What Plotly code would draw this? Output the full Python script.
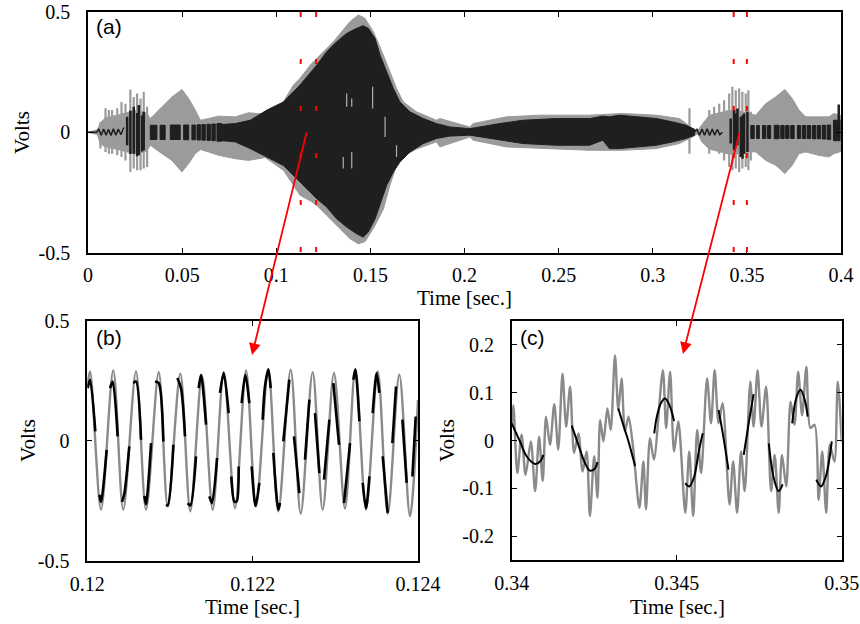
import plotly.graph_objects as go

W, H = 860, 624

# ---------------- Panel (a): values ----------------
# gray signal envelope (upper / lower) over time
A_GRAY_T = [0.0, 0.005, 0.0066, 0.0093, 0.015, 0.020, 0.025, 0.031, 0.0331, 0.0393, 0.0446, 0.0499,
            0.0535, 0.0570, 0.0597, 0.0641, 0.0694, 0.0782, 0.0853, 0.0941, 0.1038, 0.1091, 0.1126,
            0.1180, 0.1215, 0.1303, 0.1392, 0.1436, 0.1471, 0.1516, 0.1569, 0.1604, 0.1639, 0.1675,
            0.1745, 0.1851, 0.1869, 0.2028, 0.2046, 0.2222, 0.2399, 0.2665, 0.2841, 0.3018, 0.3142,
            0.3213, 0.3240, 0.3260, 0.3300, 0.3350, 0.3400, 0.3450, 0.3500, 0.3547, 0.3600, 0.3653,
            0.3702, 0.3741, 0.3777, 0.3812, 0.3883, 0.3936, 0.3962, 0.4000]
A_GRAY_HI = [0.0, 0.01, 0.04, 0.06, 0.07, 0.08, 0.09, 0.08, 0.057, 0.106, 0.147, 0.178,
             0.14, 0.092, 0.05, 0.057, 0.067, 0.064, 0.081, 0.075, 0.126, 0.196, 0.224,
             0.279, 0.307, 0.376, 0.46, 0.488, 0.474, 0.418, 0.321, 0.251, 0.182, 0.126,
             0.085, 0.05, 0.057, 0.022, 0.036, 0.064, 0.071, 0.071, 0.078, 0.071, 0.057,
             0.015, 0.008, 0.03, 0.07, 0.08, 0.09, 0.09, 0.08, 0.071, 0.119, 0.147,
             0.178, 0.14, 0.092, 0.064, 0.064, 0.064, 0.078, 0.07]
A_GRAY_LO = [0.0, -0.01, -0.05, -0.06, -0.07, -0.08, -0.09, -0.08, -0.054, -0.089, -0.117, -0.165,
             -0.13, -0.089, -0.072, -0.082, -0.096, -0.11, -0.117, -0.105, -0.158, -0.22, -0.262,
             -0.285, -0.304, -0.374, -0.443, -0.464, -0.455, -0.40, -0.32, -0.22, -0.138, -0.10,
             -0.07, -0.04, -0.061, -0.02, -0.033, -0.061, -0.068, -0.075, -0.075, -0.068, -0.047,
             -0.019, -0.006, -0.04, -0.07, -0.08, -0.09, -0.09, -0.08, -0.082, -0.117, -0.137,
             -0.172, -0.137, -0.089, -0.082, -0.096, -0.103, -0.089, -0.08]

# gray thin spikes in the bursts
A_SPIKE_T = [0.0066, 0.0093, 0.0111, 0.0128, 0.0155, 0.0178, 0.0199, 0.0225, 0.0243, 0.0261, 0.0279,
             0.0296, 0.0314, 0.3195, 0.3300, 0.3326, 0.3353, 0.3379, 0.3406, 0.3423, 0.3441, 0.3459,
             0.3476, 0.3494, 0.3508, 0.3521]
A_SPIKE_HI = [0.043, 0.10, 0.093, 0.093, 0.10, 0.126, 0.119, 0.178, 0.147, 0.161, 0.14,
              0.168, 0.106, 0.10, 0.092, 0.106, 0.119, 0.133, 0.161, 0.189, 0.175, 0.182,
              0.168, 0.161, 0.175, 0.085]
A_SPIKE_LO = [-0.068, -0.082, -0.089, -0.089, -0.096, -0.103, -0.117, -0.165, -0.151, -0.158, -0.158,
              -0.151, -0.144, -0.089, -0.089, -0.075, -0.089, -0.117, -0.144, -0.158, -0.151, -0.165,
              -0.151, -0.144, -0.158, -0.117]

# black signal envelope
A_BLACK_T = [0.0712, 0.0782, 0.0862, 0.0950, 0.1038, 0.1126, 0.1215, 0.1268, 0.1321, 0.1374, 0.1427,
             0.1462, 0.1489, 0.1525, 0.1551, 0.1586, 0.1622, 0.1657, 0.1710, 0.1781, 0.1851, 0.1922,
             0.2028, 0.2187, 0.2311, 0.2488, 0.2665, 0.2735, 0.2770, 0.2823, 0.2929, 0.3018, 0.3106,
             0.3177, 0.3222]
A_BLACK_HI = [0.032, 0.036, 0.05, 0.092, 0.126, 0.196, 0.279, 0.335, 0.376, 0.411, 0.432,
              0.443, 0.432, 0.39, 0.321, 0.251, 0.182, 0.126, 0.085, 0.057, 0.036, 0.022,
              0.015, 0.036, 0.05, 0.057, 0.057, 0.067, 0.064, 0.071, 0.064, 0.057, 0.043,
              0.029, 0.012]
A_BLACK_LO = [-0.035, -0.04, -0.068, -0.103, -0.138, -0.207, -0.276, -0.311, -0.36, -0.394, -0.422,
              -0.436, -0.415, -0.36, -0.304, -0.221, -0.165, -0.124, -0.082, -0.047, -0.026, -0.016,
              -0.012, -0.033, -0.047, -0.054, -0.054, -0.033, -0.068, -0.068, -0.061, -0.054, -0.04,
              -0.026, -0.012]

# black strokes inside the bursts
A_STROKE_T = [0.0208, 0.0225, 0.0243, 0.0261, 0.0270, 0.0287, 0.0296,
              0.3414, 0.3432, 0.3441, 0.3450, 0.3468, 0.3477, 0.3485, 0.3503, 0.3988]
A_STROKE_HI = [0.064, 0.09, 0.106, 0.08, 0.113, 0.07, 0.085,
               0.057, 0.092, 0.078, 0.099, 0.064, 0.071, 0.078, 0.085, 0.115]
A_STROKE_LO = [-0.054, -0.09, -0.089, -0.10, -0.096, -0.08, -0.075,
               -0.047, -0.075, -0.061, -0.054, -0.103, -0.11, -0.089, -0.082, -0.02]

# black blocks (start, end, top, bottom)
A_BLOCK_T0 = [0.0331, 0.0383, 0.0437, 0.0508, 0.0552, 0.0579, 0.0605, 0.0632, 0.0658, 0.0685,
              0.3521, 0.3552, 0.3583, 0.3610, 0.3645, 0.3680, 0.3706, 0.3733, 0.3768, 0.3795,
              0.3821, 0.3848, 0.3874, 0.3901, 0.3927, 0.3960]
A_BLOCK_T1 = [0.0366, 0.0410, 0.0490, 0.0535, 0.0570, 0.0597, 0.0623, 0.0650, 0.0676, 0.0712,
              0.3539, 0.3566, 0.3601, 0.3627, 0.3671, 0.3698, 0.3724, 0.3751, 0.3786, 0.3813,
              0.3839, 0.3866, 0.3892, 0.3919, 0.3945, 0.3995]
A_BLOCK_HI = [0.029, 0.029, 0.03, 0.03, 0.03, 0.031, 0.032, 0.033, 0.034, 0.036,
              0.028, 0.028, 0.028, 0.028, 0.029, 0.028, 0.028, 0.028, 0.028, 0.028,
              0.028, 0.028, 0.028, 0.029, 0.03, 0.05]
A_BLOCK_LO = [-0.03, -0.03, -0.03, -0.031, -0.031, -0.032, -0.033, -0.034, -0.035, -0.037,
              -0.026, -0.026, -0.026, -0.026, -0.027, -0.026, -0.026, -0.026, -0.026, -0.026,
              -0.026, -0.027, -0.027, -0.028, -0.03, -0.035]

# thin black wiggles at the quiet parts
A_WIG_L_T = [0.0, 0.0045, 0.0057, 0.0070, 0.0083, 0.0096, 0.0109, 0.0122, 0.0135, 0.0148, 0.0161, 0.0175, 0.0190]
A_WIG_L_V = [0.0, 0.0, 0.012, -0.012, 0.013, -0.012, 0.012, -0.013, 0.014, -0.012, 0.013, -0.01, 0.02]
A_WIG_R_T = [0.3222, 0.3235, 0.3248, 0.3262, 0.3275, 0.3289, 0.3302, 0.3316, 0.3329, 0.3343, 0.3356, 0.3370]
A_WIG_R_V = [0.0, 0.012, -0.012, 0.013, -0.012, 0.014, -0.013, 0.013, -0.012, 0.012, -0.01, 0.0]

# light streaks inside the black burst
A_STREAK_T = [0.1374, 0.1401, 0.1356, 0.1401, 0.1512, 0.1578, 0.1639]
A_STREAK_HI = [0.161, 0.14, -0.103, -0.082, 0.189, 0.064, -0.054]
A_STREAK_LO = [0.106, 0.106, -0.151, -0.151, 0.099, -0.020, -0.103]

A_XTICKS = [0, 0.05, 0.1, 0.15, 0.2, 0.25, 0.3, 0.35, 0.4]
A_XTICKTEXT = ["0", "0.05", "0.1", "0.15", "0.2", "0.25", "0.3", "0.35", "0.4"]
A_YTICKS = [-0.5, 0, 0.5]
A_YTICKTEXT = ["-0.5", "0", "0.5"]
RED_MARK_T = [0.1130, 0.1212, 0.3430, 0.3500]

# ---------------- Panel (b) ----------------
B_PEAK_T = [0.120033, 0.120314, 0.120589, 0.120864, 0.121125, 0.121387, 0.121650, 0.121920,
            0.122189, 0.122460, 0.122726, 0.122984, 0.123242, 0.123513, 0.123774]
B_PEAK_V = [0.289, 0.293, 0.289, 0.285, 0.279, 0.271, 0.285, 0.293,
            0.299, 0.296, 0.285, 0.282, 0.299, 0.289, 0.275]
B_TROUGH_T = [0.120166, 0.120435, 0.120710, 0.120973, 0.121246, 0.121517, 0.121787, 0.122041,
              0.122310, 0.122581, 0.122847, 0.123117, 0.123371, 0.123634, 0.123903]
B_TROUGH_V = [-0.2875, -0.2875, -0.2875, -0.274, -0.294, -0.2875, -0.281, -0.274,
              -0.294, -0.304, -0.2875, -0.283, -0.2875, -0.304, -0.315]
B_EDGE_T = [0.120, 0.124]
B_EDGE_V = [0.226, 0.17]

B_BLACK_T = [0.120004, 0.120033, 0.120097, None, 0.120146, 0.120166, 0.120234, None,
             0.120275, 0.120307, 0.120367, None, 0.120420, 0.120448, 0.120508, None,
             0.120557, 0.120589, 0.120650, None, 0.120690, 0.120710, 0.120771, None,
             0.120819, 0.120863, 0.120920, None, 0.120952, 0.120973, 0.121041, None,
             0.121089, 0.121133, 0.121182, None, 0.121214, 0.121246, 0.121315, None,
             0.121347, 0.121375, 0.121436, None, 0.121476, 0.121508, 0.121569, None,
             0.121605, 0.121650, 0.121710, None, 0.121742, 0.121779, 0.121807, 0.121831, None,
             0.121867, 0.121912, 0.121960, None, 0.121988, 0.122035, 0.122081, None,
             0.122121, 0.122149, 0.122190, 0.122218, None, 0.122250, 0.122311, 0.122331, None,
             0.122371, 0.122444, None, 0.122500, 0.122565, None, 0.122633, 0.122686, None,
             0.122754, 0.122807, None, 0.122863, 0.122928, None, 0.122976, 0.123045, None,
             0.123105, 0.123178, None, 0.123218, 0.123242, 0.123291, None,
             0.123331, 0.123371, 0.123412, None, 0.123452, 0.123500, 0.123532, None,
             0.123573, 0.123633, None, 0.123690, 0.123734, None, 0.123811, 0.123863, None,
             0.123932, 0.123972]
B_BLACK_V = [0.219, 0.254, 0.039, None, -0.225, -0.255, -0.038, None,
             0.219, 0.247, 0.018, None, -0.255, -0.22, -0.024, None,
             0.240, 0.247, 0.004, None, -0.23, -0.265, -0.010, None,
             0.247, 0.240, -0.003, None, -0.267, -0.27, -0.017, None,
             0.261, 0.219, 0.018, None, -0.26, -0.27, -0.065, None,
             0.219, 0.275, 0.067, None, -0.232, -0.26, -0.072, None,
             0.199, 0.282, 0.115, None, -0.149, -0.253, -0.253, -0.107, None,
             0.157, 0.275, 0.157, None, -0.107, -0.272, -0.176, None,
             0.0875, 0.226, 0.296, 0.219, None, -0.051, -0.2875, -0.26, None,
             -0.003, 0.254, None, 0.018, -0.218, None, -0.079, 0.171, None,
             0.115, -0.135, None, -0.1625, 0.0875, None, 0.240, -0.017, None,
             -0.26, -0.010, None, 0.254, 0.296, 0.081, None,
             -0.176, -0.281, -0.149, None, 0.115, 0.282, 0.199, None,
             -0.065, -0.301, None, -0.010, 0.226, None, 0.0875, -0.176, None,
             -0.149, 0.101]
B_XTICKS = [0.12, 0.122, 0.124]
B_XTICKTEXT = ["0.12", "0.122", "0.124"]

# ---------------- Panel (c) ----------------
C_GRAY_T = [0.34000, 0.34005, 0.34017, 0.34030, 0.34042, 0.34058, 0.34071, 0.34083, 0.34094, 0.34104,
            0.34116, 0.34129, 0.34141, 0.34154, 0.34165, 0.34177, 0.34189, 0.34202, 0.34215, 0.34227,
            0.34237, 0.34250, 0.34260, 0.34268, 0.34278, 0.34290, 0.34300, 0.34313, 0.34323, 0.34333,
            0.34343, 0.34354, 0.34367, 0.34387, 0.34399, 0.34407, 0.34419, 0.34431, 0.34458, 0.34468,
            0.34480, 0.34492, 0.34505, 0.34526, 0.34538, 0.34550, 0.34562, 0.34574, 0.34592, 0.34604,
            0.34615, 0.34627, 0.34639, 0.34660, 0.34671, 0.34683, 0.34695, 0.34706, 0.34723, 0.34733,
            0.34745, 0.34757, 0.34771, 0.34786, 0.34797, 0.34809, 0.34819, 0.34832, 0.34845, 0.34857,
            0.34868, 0.34880, 0.34893, 0.34905, 0.34918, 0.34930, 0.34941, 0.34953, 0.34964, 0.34978,
            0.34988, 0.35000]
C_GRAY_V = [0.03, 0.074, -0.068, 0.012, -0.072, -0.002, -0.106, 0.008, -0.085, 0.05,
            -0.009, 0.076, -0.019, 0.140, 0.029, 0.1125, -0.026, 0.015, -0.065, -0.023,
            -0.158, -0.033, -0.12, 0.043, -0.002, 0.067, 0.022, 0.178, 0.064, 0.13,
            0.019, 0.05, -0.009, -0.141, -0.044, -0.144, 0.005, -0.04, 0.147, 0.026,
            0.144, -0.023, 0.04, -0.151, -0.023, -0.158, 0.022, -0.068, 0.13, 0.036,
            0.147, 0.036, 0.078, -0.134, -0.044, -0.151, -0.023, -0.106, 0.123, 0.029,
            0.147, 0.029, 0.1125, -0.106, -0.03, -0.151, -0.03, -0.096, 0.081, 0.033,
            0.144, 0.053, 0.154, 0.026, 0.033, -0.124, -0.023, -0.151, -0.009, -0.044,
            0.123, -0.002]

C_BLACK_T = [0.34000, 0.34025, 0.34045, 0.34071, 0.34086, 0.34096, None,
             0.34182, 0.34202, 0.34222, 0.34237, 0.34253, 0.34260, None,
             0.34323, 0.34338, 0.34354, 0.34374, None,
             0.34432, 0.34439, 0.34452, 0.34465, 0.34478, 0.34492, None,
             0.34526, 0.34538, 0.34552, 0.34567, 0.34579, None,
             0.34627, 0.34642, 0.34657, None,
             0.34703, 0.34719, 0.34733, None,
             0.34779, 0.34794, 0.34809, 0.34821, None,
             0.34850, 0.34862, 0.34875, 0.34888, 0.34897, None,
             0.34923, 0.34937, 0.34952, 0.34970]
C_BLACK_V = [0.036, -0.002, -0.033, -0.049, -0.044, -0.030, None,
             0.031, -0.009, -0.047, -0.063, -0.058, -0.045, None,
             0.067, 0.033, -0.002, -0.054, None,
             0.015, 0.047, 0.078, 0.088, 0.074, 0.041, None,
             -0.089, -0.096, -0.078, -0.023, 0.015, None,
             0.064, 0.005, -0.061, None,
             -0.03, 0.040, 0.097, None,
             -0.006, -0.078, -0.106, -0.092, None,
             0.036, 0.088, 0.106, 0.085, 0.05, None,
             -0.082, -0.096, -0.075, -0.002]
C_XTICKS = [0.34, 0.345, 0.35]
C_XTICKTEXT = ["0.34", "0.345", "0.35"]
C_YTICKS = [-0.2, -0.1, 0, 0.1, 0.2]
C_YTICKTEXT = ["-0.2", "-0.1", "0", "0.1", "0.2"]

GRAY_A = "#9b9b9b"
GRAY_L = "#8a8a8a"
BLACK_A = "#1f1f1f"
SERIF = "Liberation Serif"
SANS = "Liberation Sans"


def px_x(p):
    return p / W


def px_y(p):
    return 1 - p / H


fig = go.Figure()

# --- panel (a) ---
fig.add_trace(go.Scatter(x=A_GRAY_T + A_GRAY_T[::-1], y=A_GRAY_HI + A_GRAY_LO[::-1],
                         fill="toself", fillcolor=GRAY_A, line=dict(color=GRAY_A, width=1),
                         mode="lines", hoverinfo="skip", xaxis="x", yaxis="y"))
sx, sy = [], []
for t, hi, lo in zip(A_SPIKE_T, A_SPIKE_HI, A_SPIKE_LO):
    sx += [t, t, None]
    sy += [lo, hi, None]
fig.add_trace(go.Scatter(x=sx, y=sy, mode="lines", line=dict(color=GRAY_A, width=2.2),
                         hoverinfo="skip", xaxis="x", yaxis="y"))
fig.add_trace(go.Scatter(x=A_BLACK_T + A_BLACK_T[::-1], y=A_BLACK_HI + A_BLACK_LO[::-1],
                         fill="toself", fillcolor=BLACK_A, line=dict(color=BLACK_A, width=1),
                         mode="lines", hoverinfo="skip", xaxis="x", yaxis="y"))
bx, by = [], []
for t0, t1, hi, lo in zip(A_BLOCK_T0, A_BLOCK_T1, A_BLOCK_HI, A_BLOCK_LO):
    bx += [t0, t1, t1, t0, t0, None]
    by += [lo, lo, hi, hi, lo, None]
fig.add_trace(go.Scatter(x=bx, y=by, fill="toself", fillcolor=BLACK_A, mode="lines",
                         line=dict(color=BLACK_A, width=1), hoverinfo="skip", xaxis="x", yaxis="y"))
kx, ky = [], []
for t, hi, lo in zip(A_STROKE_T, A_STROKE_HI, A_STROKE_LO):
    kx += [t, t, None]
    ky += [lo, hi, None]
fig.add_trace(go.Scatter(x=kx, y=ky, mode="lines", line=dict(color=BLACK_A, width=2.5),
                         hoverinfo="skip", xaxis="x", yaxis="y"))
for tt, vv in ((A_WIG_L_T, A_WIG_L_V), (A_WIG_R_T, A_WIG_R_V)):
    fig.add_trace(go.Scatter(x=tt, y=vv, mode="lines", line=dict(color=BLACK_A, width=1.5),
                             hoverinfo="skip", xaxis="x", yaxis="y"))
wx, wy = [], []
for t, hi, lo in zip(A_STREAK_T, A_STREAK_HI, A_STREAK_LO):
    wx += [t, t, None]
    wy += [lo, hi, None]
fig.add_trace(go.Scatter(x=wx, y=wy, mode="lines", line=dict(color="#b0b0b0", width=1.2),
                         hoverinfo="skip", xaxis="x", yaxis="y"))

# --- panel (b) ---
b_pts = sorted(zip(B_PEAK_T + B_TROUGH_T + B_EDGE_T, B_PEAK_V + B_TROUGH_V + B_EDGE_V))
fig.add_trace(go.Scatter(x=[p[0] for p in b_pts], y=[p[1] for p in b_pts], mode="lines",
                         line=dict(color=GRAY_L, width=2.4, shape="spline", smoothing=0.9),
                         hoverinfo="skip", xaxis="x2", yaxis="y2"))
fig.add_trace(go.Scatter(x=B_BLACK_T, y=B_BLACK_V, mode="lines", connectgaps=False,
                         line=dict(color="black", width=2.6, shape="spline", smoothing=0.8),
                         hoverinfo="skip", xaxis="x2", yaxis="y2"))

# --- panel (c) ---
fig.add_trace(go.Scatter(x=C_GRAY_T, y=C_GRAY_V, mode="lines",
                         line=dict(color=GRAY_L, width=2.4, shape="spline", smoothing=0.8),
                         hoverinfo="skip", xaxis="x3", yaxis="y3"))
fig.add_trace(go.Scatter(x=C_BLACK_T, y=C_BLACK_V, mode="lines", connectgaps=False,
                         line=dict(color="black", width=2.0, shape="spline", smoothing=1.0),
                         hoverinfo="skip", xaxis="x3", yaxis="y3"))

axis_common = dict(showline=True, linecolor="black", linewidth=1.6, mirror="allticks",
                   ticks="inside", ticklen=5, tickwidth=1, tickcolor="black",
                   showgrid=False, zeroline=False, automargin=False,
                   tickfont=dict(family=SERIF, size=20, color="black"))

fig.update_layout(
    template="none",
    width=W, height=H, margin=dict(l=0, r=0, t=0, b=0, pad=0, autoexpand=False),
    paper_bgcolor="white", plot_bgcolor="white", showlegend=False,
    xaxis=dict(domain=[px_x(88), px_x(841)], range=[0, 0.4], tickvals=A_XTICKS,
               ticktext=A_XTICKTEXT, anchor="y", ticklabelstandoff=4, **axis_common),
    yaxis=dict(domain=[px_y(252.5), px_y(12)], range=[-0.5, 0.5], tickvals=A_YTICKS,
               ticktext=A_YTICKTEXT, anchor="x", ticklabelstandoff=12, **axis_common),
    xaxis2=dict(domain=[px_x(87.3), px_x(418)], range=[0.12, 0.124], tickvals=B_XTICKS,
                ticktext=B_XTICKTEXT, anchor="y2", ticklabelstandoff=4, **axis_common),
    yaxis2=dict(domain=[px_y(560.7), px_y(320.7)], range=[-0.5, 0.5], tickvals=A_YTICKS,
                ticktext=A_YTICKTEXT, anchor="x2", ticklabelstandoff=12, **axis_common),
    xaxis3=dict(domain=[px_x(511.7), px_x(841.7)], range=[0.34, 0.35], tickvals=C_XTICKS,
                ticktext=C_XTICKTEXT, anchor="y3", ticklabelstandoff=4, **axis_common),
    yaxis3=dict(domain=[px_y(560), px_y(321)], range=[-0.25, 0.25], tickvals=C_YTICKS,
                ticktext=C_YTICKTEXT, anchor="x3", ticklabelstandoff=12, **axis_common),
)

# red dashed markers on panel (a)
for t in RED_MARK_T:
    fig.add_shape(type="line", xref="x", yref="y", x0=t, x1=t, y0=0.5, y1=-0.5,
                  line=dict(color="red", width=2, dash="5px,42px"))

annotations = []
# panel letters
for txt, px, py in (("(a)", 94, 27), ("(b)", 94, 337), ("(c)", 518, 337)):
    annotations.append(dict(text=txt, x=px_x(px), y=px_y(py), xref="paper", yref="paper",
                            xanchor="left", yanchor="middle", showarrow=False,
                            font=dict(family=SANS, size=21, color="black")))
# axis titles
for px, py in ((22, 133), (28, 441), (447, 441)):
    annotations.append(dict(text="Volts", x=px_x(px), y=px_y(py), xref="paper", yref="paper",
                            textangle=-90, showarrow=False, xanchor="center", yanchor="middle",
                            font=dict(family=SERIF, size=21, color="black")))
for px, py in ((464, 298), (252, 607), (677, 607)):
    annotations.append(dict(text="Time [sec.]", x=px_x(px), y=px_y(py), xref="paper", yref="paper",
                            showarrow=False, xanchor="center", yanchor="middle",
                            font=dict(family=SERIF, size=21, color="black")))
# red arrows
for (hx, hy), (tx, ty) in (((252, 355), (307, 131)), ((683, 354), (740, 131))):
    annotations.append(dict(text="", x=px_x(hx), y=px_y(hy), xref="paper", yref="paper",
                            ax=tx - hx, ay=ty - hy, axref="pixel", ayref="pixel",
                            showarrow=True, arrowhead=2, arrowsize=1.3, arrowwidth=1.8,
                            arrowcolor="red", standoff=0))
fig.update_layout(annotations=annotations)

fig.write_html("out.html", config={"displayModeBar": False},
               post_script="document.body.style.margin='0';document.body.style.padding='0';")
